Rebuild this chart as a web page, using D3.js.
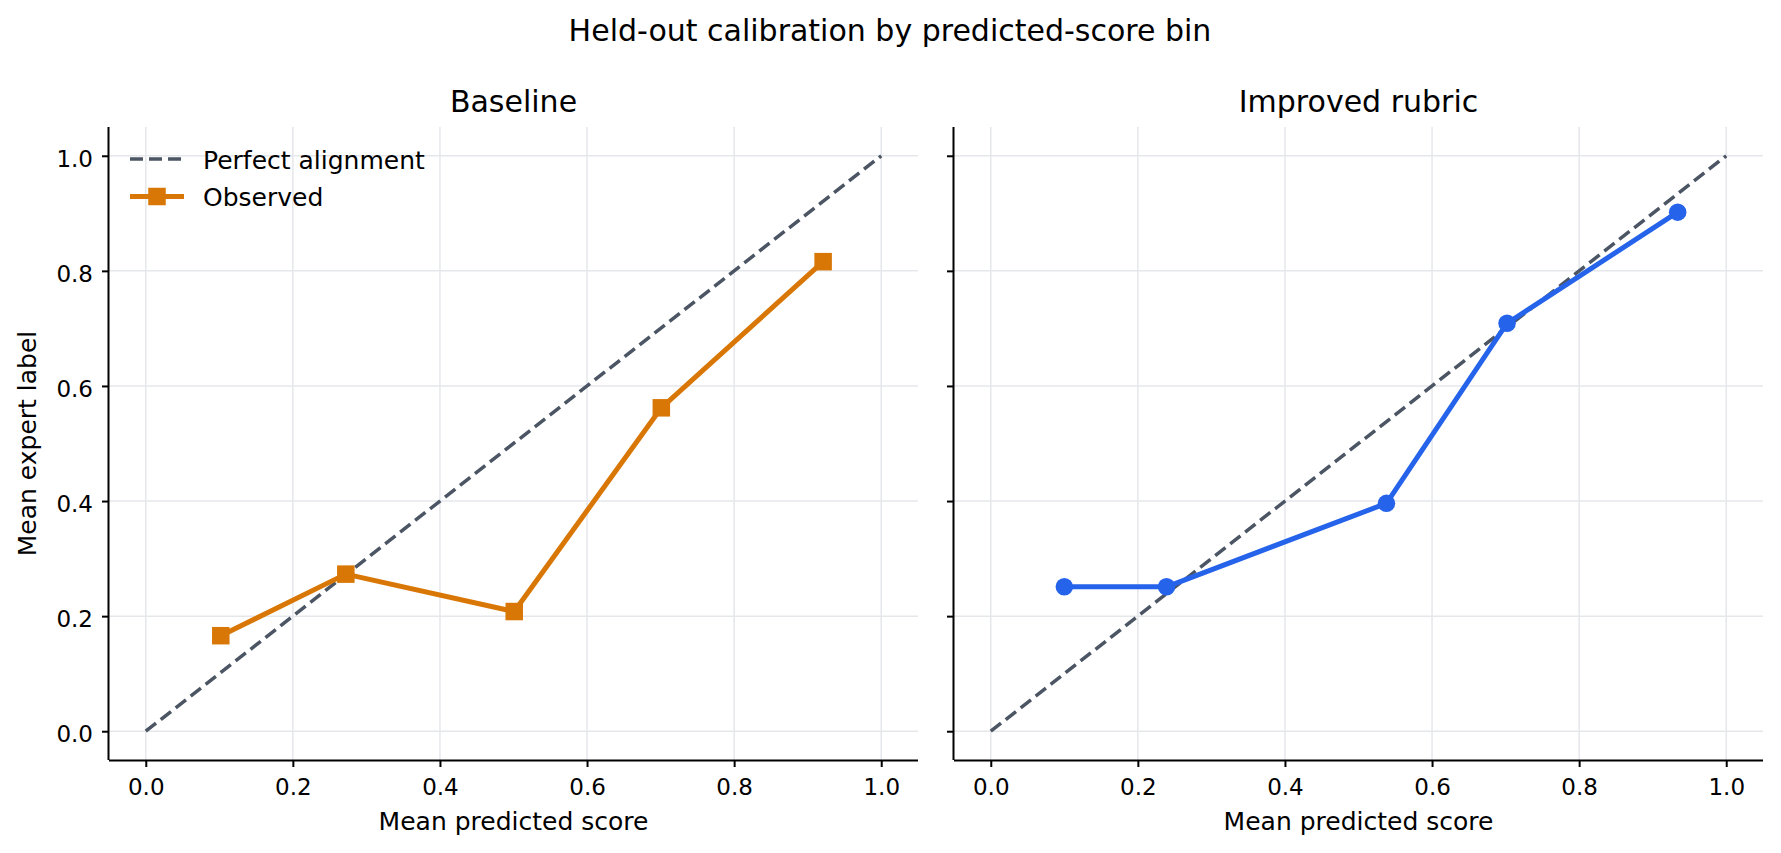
<!DOCTYPE html>
<html>
<head>
<meta charset="utf-8">
<script src="https://cdn.jsdelivr.net/npm/d3@7"></script>
<style>
  html, body { margin: 0; padding: 0; background: #fff; }
  svg { display: block; font-family: "DejaVu Sans", sans-serif; }
</style>
</head>
<body>
<svg id="chart" width="1781" height="853"></svg>
<script>
// ---- data ----
const figureTitle = "Held-out calibration by predicted-score bin";
const panelTitles = ["Baseline", "Improved rubric"];
const xLabel = "Mean predicted score";
const yLabel = "Mean expert label";
const tickValues = [0.0, 0.2, 0.4, 0.6, 0.8, 1.0];
const perfectX = [0, 1];
const perfectY = [0, 1];
const baselineX = [0.102, 0.272, 0.501, 0.701, 0.921];
const baselineY = [0.166, 0.273, 0.208, 0.562, 0.816];
const improvedX = [0.100, 0.239, 0.538, 0.702, 0.934];
const improvedY = [0.251, 0.251, 0.396, 0.709, 0.902];
const legendLabels = ["Perfect alignment", "Observed"];

// ---- layout ----
const svg = d3.select("#chart");
const panelLeft = [109, 954];
const panelWidth = 809;
const plotTop = 127, plotBottom = 760;
const colors = { perfect: "#4b5563", baseline: "#d97706", improved: "#2563eb", grid: "#e5e7eb" };

svg.append("text")
  .attr("x", 890).attr("y", 41)
  .attr("text-anchor", "middle")
  .attr("font-size", 30)
  .attr("fill", "#000")
  .text(figureTitle);

const series = [
  { x: baselineX, y: baselineY, color: colors.baseline, marker: "square" },
  { x: improvedX, y: improvedY, color: colors.improved, marker: "circle" }
];

series.forEach((s, i) => {
  const x = d3.scaleLinear().domain([-0.05, 1.05]).range([panelLeft[i], panelLeft[i] + panelWidth]);
  const y = d3.scaleLinear().domain([-0.05, 1.05]).range([plotBottom, plotTop]);
  const g = svg.append("g");

  // grid
  g.append("g").selectAll("line").data(tickValues).join("line")
    .attr("x1", d => x(d)).attr("x2", d => x(d))
    .attr("y1", plotTop).attr("y2", plotBottom)
    .attr("stroke", colors.grid).attr("stroke-width", 1.5);
  g.append("g").selectAll("line").data(tickValues).join("line")
    .attr("y1", d => y(d)).attr("y2", d => y(d))
    .attr("x1", panelLeft[i]).attr("x2", panelLeft[i] + panelWidth)
    .attr("stroke", colors.grid).attr("stroke-width", 1.5);

  // axes
  const xAxis = d3.axisBottom(x).tickValues(tickValues).tickFormat(d3.format(".1f"))
    .tickSize(7).tickPadding(11.5);
  const yAxis = d3.axisLeft(y).tickValues(tickValues)
    .tickFormat(i === 0 ? d3.format(".1f") : () => "")
    .tickSize(7).tickPadding(9);

  const gx = g.append("g").attr("transform", `translate(0,${plotBottom})`).call(xAxis);
  const gy = g.append("g").attr("transform", `translate(${panelLeft[i]},0)`).call(yAxis);
  [gx, gy].forEach(a => {
    a.select(".domain").attr("stroke", "#000").attr("stroke-width", 2);
    a.selectAll(".tick line").attr("stroke", "#000").attr("stroke-width", 2);
    a.selectAll(".tick text").attr("font-size", 23).attr("fill", "#000")
      .attr("font-family", "DejaVu Sans, sans-serif");
  });
  gy.selectAll(".tick text").attr("dy", "0.45em");
  gx.select(".domain").attr("d", `M${panelLeft[i]},0.5H${panelLeft[i] + panelWidth}`);
  gy.select(".domain").attr("d", `M-0.5,${plotTop}V${plotBottom}`);

  // perfect line
  const perf = perfectX.map((v, k) => [v, perfectY[k]]);
  g.append("path")
    .attr("d", d3.line().x(d => x(d[0])).y(d => y(d[1]))(perf))
    .attr("fill", "none").attr("stroke", colors.perfect)
    .attr("stroke-width", 3.5).attr("stroke-dasharray", "13,6");

  // observed
  const pts = s.x.map((v, k) => [v, s.y[k]]);
  g.append("path")
    .attr("d", d3.line().x(d => x(d[0])).y(d => y(d[1]))(pts))
    .attr("fill", "none").attr("stroke", s.color)
    .attr("stroke-width", 5).attr("stroke-linejoin", "round");
  if (s.marker === "square") {
    g.append("g").selectAll("rect").data(pts).join("rect")
      .attr("x", d => x(d[0]) - 8.75).attr("y", d => y(d[1]) - 8.75)
      .attr("width", 17.5).attr("height", 17.5)
      .attr("fill", s.color);
  } else {
    g.append("g").selectAll("circle").data(pts).join("circle")
      .attr("cx", d => x(d[0])).attr("cy", d => y(d[1])).attr("r", 8.75)
      .attr("fill", s.color);
  }

  // titles
  g.append("text")
    .attr("x", panelLeft[i] + panelWidth / 2).attr("y", 112)
    .attr("text-anchor", "middle").attr("font-size", 30).attr("fill", "#000")
    .text(panelTitles[i]);
  g.append("text")
    .attr("x", panelLeft[i] + panelWidth / 2).attr("y", 830)
    .attr("text-anchor", "middle").attr("font-size", 25).attr("fill", "#000")
    .text(xLabel);

  if (i === 0) {
    g.append("text")
      .attr("transform", `translate(36,${(plotTop + plotBottom) / 2}) rotate(-90)`)
      .attr("text-anchor", "middle").attr("font-size", 25).attr("fill", "#000")
      .text(yLabel);

    // legend
    const lg = g.append("g");
    lg.append("line").attr("x1", 130).attr("x2", 184).attr("y1", 159).attr("y2", 159)
      .attr("stroke", colors.perfect).attr("stroke-width", 3.5).attr("stroke-dasharray", "13,6");
    lg.append("text").attr("x", 203).attr("y", 159).attr("dy", "0.38em")
      .attr("font-size", 25).attr("fill", "#000").text(legendLabels[0]);
    lg.append("line").attr("x1", 130).attr("x2", 184).attr("y1", 196.5).attr("y2", 196.5)
      .attr("stroke", colors.baseline).attr("stroke-width", 5);
    lg.append("rect").attr("x", 157 - 8.75).attr("y", 196.5 - 8.75).attr("width", 17.5).attr("height", 17.5)
      .attr("fill", colors.baseline);
    lg.append("text").attr("x", 203).attr("y", 196.5).attr("dy", "0.38em")
      .attr("font-size", 25).attr("fill", "#000").text(legendLabels[1]);
  }
});
</script>
</body>
</html>
